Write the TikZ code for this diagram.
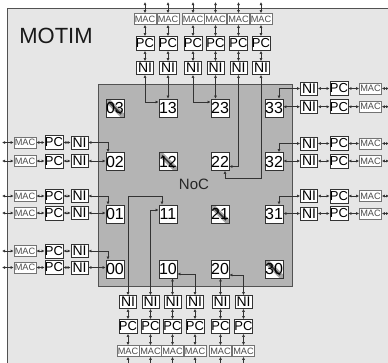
\documentclass[tikz,border=0pt]{standalone}
\usepackage{fontspec}
\setmainfont{Liberation Sans}
\usetikzlibrary{arrows.meta,calc}
\definecolor{framefill}{HTML}{E6E6E6}
\definecolor{nocfill}{HTML}{B4B4B4}
\definecolor{edgec}{HTML}{333333}
\begin{document}
\begin{tikzpicture}[x=1pt,y=-1pt,
  router/.style={draw=edgec, fill=white, line width=0.7pt, minimum width=18pt, minimum height=18pt, inner sep=0pt, font=\fontsize{16}{16}\selectfont},
  offrouter/.style={router, path picture={
      \draw[black, opacity=0.35, line width=5pt] (path picture bounding box.north west) -- (path picture bounding box.south east);
      \draw[black, opacity=0.7, line width=1.5pt] ($(path picture bounding box.north west)+(3,3)$) -- ($(path picture bounding box.south east)+(-3,-3)$);}},
  nibox/.style={draw=edgec, fill=white, line width=0.7pt, minimum width=17pt, minimum height=13pt, inner sep=0pt, font=\fontsize{14}{14}\selectfont},
  pcbox/.style={nibox, minimum width=17pt, minimum height=14pt, font=\fontsize{13}{13}\selectfont},
  macbox/.style={draw=gray!90!black, fill=white, line width=0.6pt, minimum width=22pt, minimum height=11pt, inner sep=0pt, text=gray!60!black, font=\fontsize{9.2}{9}\selectfont},
  link/.style={draw=edgec, line width=0.8pt, {Latex[length=3pt,width=3pt]}-{Latex[length=3pt,width=3pt]}}
]
\useasboundingbox (0,0) rectangle (388,362);
\begin{scope}
\clip (0,0) rectangle (388,362);
\fill[white] (0,0) rectangle (388,362);
\draw[fill=framefill, draw=edgec!85, line width=1pt] (7,8) rectangle (400,380);
\end{scope}
\draw[fill=nocfill, draw=edgec!85, line width=0.8pt] (98,84) rectangle (292,286);

\node[font=\fontsize{22}{22}\selectfont, text=black!90] (motim) at (56,36) {MOTIM};
\node[font=\fontsize{15}{15}\selectfont, text=black!85] (noclbl) at (194,184.5) {NoC};

% routers
\node[offrouter] (r03) at (115,108) {03};
\node[router] (r13) at (168,108) {13};
\node[router] (r23) at (220,108) {23};
\node[router] (r33) at (274,108) {33};
\node[router] (r02) at (115,161.5) {02};
\node[offrouter] (r12) at (168,161.5) {12};
\node[router] (r22) at (220,161.5) {22};
\node[router] (r32) at (274,161.5) {32};
\node[router] (r01) at (115,214) {01};
\node[router] (r11) at (168,214) {11};
\node[offrouter] (r21) at (220,214) {21};
\node[router] (r31) at (274,214) {31};
\node[router] (r00) at (115,269) {00};
\node[router] (r10) at (168,269) {10};
\node[router] (r20) at (220,269) {20};
\node[offrouter] (r30) at (274,269) {30};

% top chains
\foreach \i/\x in {1/145,2/168,3/193,4/215.5,5/238.5,6/261}{
  \node[macbox] (macT\i) at (\x,19) {MAC};
  \node[pcbox] (pcT\i) at (\x,43.5) {PC};
  \node[nibox] (niT\i) at (\x,68) {NI};
  \coordinate (extT\i) at (\x,2);
  \draw[link] (extT\i) -- (macT\i);
  \draw[link] (macT\i) -- (pcT\i);
  \draw[link] (pcT\i) -- (niT\i);
}
% right chains
\foreach \i/\y in {1/88.5,2/106.7,3/143.5,4/161,5/196,6/213.5}{
  \node[nibox] (niR\i) at (309,\y) {NI};
  \node[pcbox] (pcR\i) at (339,\y) {PC};
  \node[macbox] (macR\i) at (370.5,\y) {MAC};
  \coordinate (extR\i) at (389,\y);
  \draw[link] (niR\i) -- (pcR\i);
  \draw[link] (pcR\i) -- (macR\i);
  \draw[link] (macR\i) -- (extR\i);
}
% left chains
\foreach \i/\y in {1/142.5,2/161,3/196,4/213,5/251,6/267.5}{
  \node[macbox] (macL\i) at (25,\y) {MAC};
  \node[pcbox] (pcL\i) at (54,\y) {PC};
  \node[nibox] (niL\i) at (79.5,\y) {NI};
  \coordinate (extL\i) at (2,\y);
  \draw[link] (extL\i) -- (macL\i);
  \draw[link] (macL\i) -- (pcL\i);
  \draw[link] (pcL\i) -- (niL\i);
}
% bottom chains
\foreach \i/\x in {1/128,2/150.5,3/172.5,4/195,5/220.5,6/243.5}{
  \node[nibox] (niB\i) at (\x,302) {NI};
  \node[pcbox] (pcB\i) at (\x,326.5) {PC};
  \node[macbox] (macB\i) at (\x,351) {MAC};
  \coordinate (extB\i) at (\x,366);
  \draw[link] (niB\i) -- (pcB\i);
  \draw[link] (pcB\i) -- (macB\i);
  \draw[link] (macB\i) -- (extB\i);
}

% top connections
\draw[link] (niT1.south) |- ([yshift=6pt]r13.west);
\draw[link] (niT2.south) -- (niT2.south |- r13.north);
\draw[link] (niT3.south) |- ([yshift=6pt]r23.west);
\draw[link] (niT4.south) -- (niT4.south |- r23.north);
\draw[link] (niT5.south) |- ([yshift=-5pt]r22.east);
\draw[link] (niT6.south) |- ($([xshift=5pt]r22.south)+(0,7.8)$) -- ([xshift=5pt]r22.south);

% right connections
\draw[link] (niR1.west) -| ([xshift=5pt]r33.north);
\draw[link] (niR2.west) -- (niR2.west -| r33.east);
\draw[link] (niR3.west) -| ([xshift=5pt]r32.north);
\draw[link] (niR4.west) -- (niR4.west -| r32.east);
\draw[link] (niR5.west) -| ([xshift=5pt]r31.north);
\draw[link] (niR6.west) -- (niR6.west -| r31.east);

% left connections
\draw[link] (niL1.east) -| ([xshift=-7pt]r02.north);
\draw[link] (niL2.east) -- (niL2.east -| r02.west);
\draw[link] (niL3.east) -| ([xshift=-7pt]r01.north);
\draw[link] (niL4.east) -- (niL4.east -| r01.west);
\draw[link] (niL5.east) -| ([xshift=-7pt]r00.north);
\draw[link] (niL6.east) -- (niL6.east -| r00.west);

% bottom connections
\draw[link] (niB1.north) |- ($([xshift=-6pt]r11.north)+(0,-8)$) -- ([xshift=-6pt]r11.north);
\draw[link] (niB2.north) |- ([yshift=4pt]r11.west);
\draw[link] (niB3.north) -- (niB3.north |- r10.south);
\draw[link] (niB4.north) |- ([yshift=-5pt]r10.east);
\draw[link] (niB5.north) -- (niB5.north |- r20.south);
\draw[link] (niB6.north) |- ([yshift=-6pt]r20.east);
\end{tikzpicture}
\end{document}
